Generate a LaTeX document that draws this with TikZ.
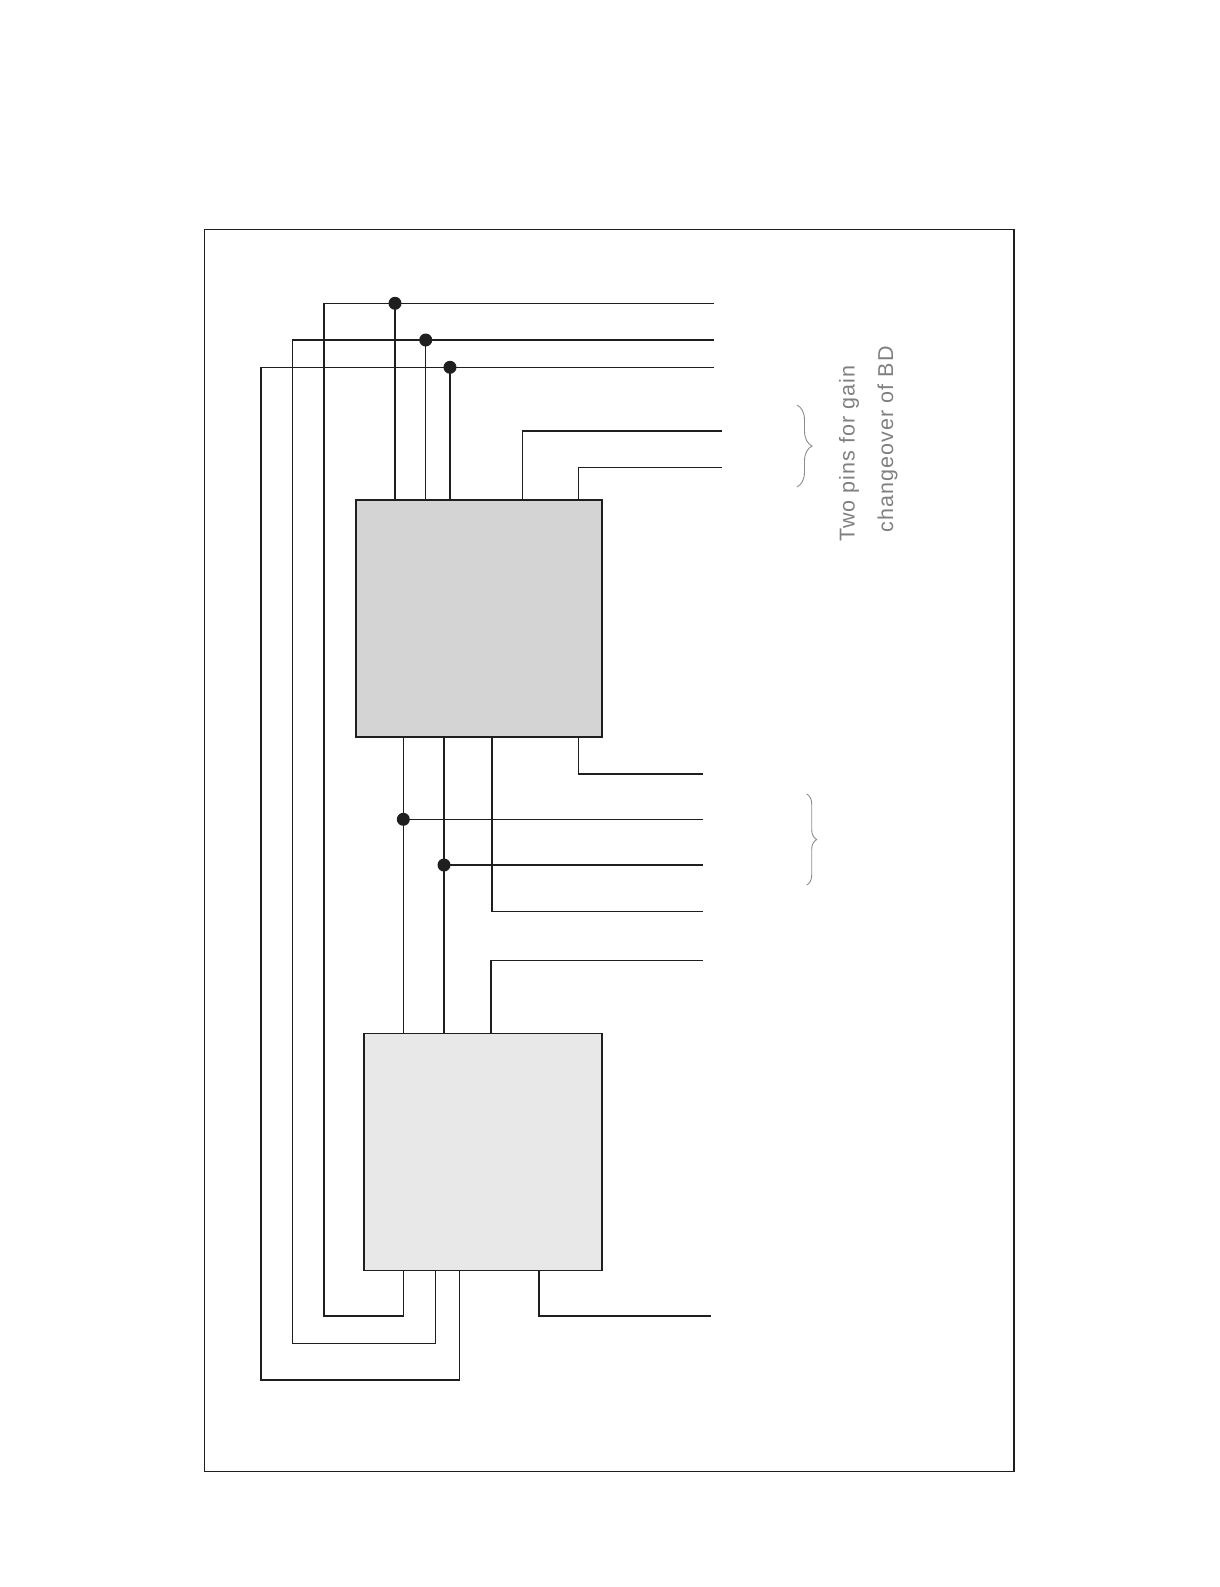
\documentclass[tikz,border=0pt]{standalone}
\usepackage{fontspec}
\setmainfont{Liberation Sans}
\usetikzlibrary{decorations.pathreplacing}
\begin{document}
\begin{tikzpicture}[x=1pt,y=-1pt,
  wire/.style={line width=1.5pt,black!88},
  dotj/.style={circle,fill=black!88,inner sep=0pt,minimum size=13pt},
  blk/.style={draw=black!88,line width=1.8pt,inner sep=0pt,outer sep=0pt,minimum height=237pt},
  frm/.style={draw=black!88,line width=1.8pt,inner sep=0pt,outer sep=0pt},
  brc/.style={draw=black!45,line width=0.9pt,decorate},
  lbl/.style={text=black!50,font=\fontsize{21.5}{25}\selectfont\addfontfeature{LetterSpace=5},rotate=90,anchor=base,inner sep=0pt}]
\useasboundingbox (0,0) rectangle (1219,1587);
% frame
\node[frm,minimum width=809.5pt,minimum height=1242pt] (frame) at (609.25,850.5) {};
% blocks
\node[blk,fill=black!17,minimum width=246pt] (ub) at (479,618.5) {};
\node[blk,fill=black!9,minimum width=238pt] (lb) at (483,1152) {};
% right-hand ends
\coordinate (e1) at (714,303.3);
\coordinate (e2) at (714,340);
\coordinate (e3) at (714,367.3);
\coordinate (e4) at (722,431);
\coordinate (e5) at (722,467.7);
\coordinate (e6) at (703,774);
\coordinate (e7) at (703,819.3);
\coordinate (e8) at (703,865);
\coordinate (e9) at (703,911.7);
\coordinate (e10) at (703,960.7);
\coordinate (e11) at (711,1316);
% junctions
\node[dotj] (j1) at (395,303.3) {};
\node[dotj] (j2) at (425.7,340) {};
\node[dotj] (j3) at (450,367.3) {};
\node[dotj] (j4) at (403.3,819.3) {};
\node[dotj] (j5) at (444,865) {};
% long return loops
\draw[wire] (e1) -- (324,303.3) -- (324,1316) -- (403.7,1316) -- (403.7,0 |- lb.south);
\draw[wire] (e2) -- (292.7,340) -- (292.7,1343.7) -- (435.3,1343.7) -- (435.3,0 |- lb.south);
\draw[wire] (e3) -- (261,367.3) -- (261,1380) -- (459.3,1380) -- (459.3,0 |- lb.south);
% drops into upper block
\draw[wire] (j1.center) -- (j1.center |- ub.north);
\draw[wire] (j2.center) -- (j2.center |- ub.north);
\draw[wire] (j3.center) -- (j3.center |- ub.north);
\draw[wire] (e4) -- (522.7,431) -- (522.7,0 |- ub.north);
\draw[wire] (e5) -- (578.3,467.7) -- (578.3,0 |- ub.north);
% below upper block
\draw[wire] (578.3,0 |- ub.south) -- (578.3,774) -- (e6);
\draw[wire] (403.3,0 |- ub.south) -- (403.3,0 |- lb.north);
\draw[wire] (444,0 |- ub.south) -- (444,0 |- lb.north);
\draw[wire] (j4.center) -- (e7);
\draw[wire] (j5.center) -- (e8);
\draw[wire] (492,0 |- ub.south) -- (492,911.7) -- (e9);
\draw[wire] (491,0 |- lb.north) -- (491,960.7) -- (e10);
\draw[wire] (539,0 |- lb.south) -- (539,1316) -- (e11);
% braces
\coordinate (b1a) at (797,405);
\coordinate (b1b) at (797,487);
\coordinate (b2a) at (806.7,794);
\coordinate (b2b) at (806.7,885);
\draw[brc,decoration={brace,amplitude=15pt}] (b1a) -- (b1b);
\draw[brc,decoration={brace,amplitude=10pt}] (b2a) -- (b2b);
% label
\node[lbl] (t1) at (854.5,453.6) {Two pins for gain};
\node[lbl] (t2) at (893,439.4) {changeover of BD};
\end{tikzpicture}
\end{document}
